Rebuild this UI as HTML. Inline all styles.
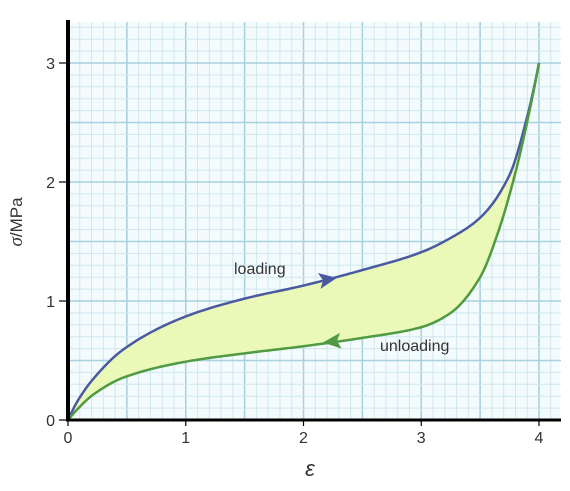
<!DOCTYPE html>
<html><head><meta charset="utf-8"><style>
body{margin:0;background:#fff}
svg text{font-family:"Liberation Sans",sans-serif}
</style></head><body>
<svg width="570" height="486" viewBox="0 0 570 486">
<g id="grid"></g>
<path id="fillArea" fill="#eaf8b8" stroke="none"/>
<path id="loadLine" fill="none" stroke="#4b5aa0" stroke-width="2.5"/>
<path id="unloadLine" fill="none" stroke="#4f9a42" stroke-width="2.5"/>
<polygon id="loadArrow" fill="#4b5aa0"/>
<polygon id="unloadArrow" fill="#4f9a42"/>
<text x="234" y="274" font-size="16" fill="#333">loading</text>
<text x="380" y="351" font-size="16" fill="#333">unloading</text>
<g id="axes"></g>
<text x="310" y="476" font-size="22" font-style="italic" font-family="Liberation Serif" text-anchor="middle" fill="#333">ε</text>
<text transform="translate(22,222) rotate(-90)" font-size="17" text-anchor="middle" fill="#333"><tspan font-style="italic" font-family="Liberation Serif" font-size="19">σ</tspan>/MPa</text>
</svg>
<script>
const xTicks=[0,1,2,3,4];
const yTicks=[0,1,2,3];
const loadX=[0,0.07,0.21,0.48,1,1.5,2,2.5,3,3.25,3.5,3.75,3.9,4];
const loadY=[0,0.14,0.34,0.6,0.87,1.02,1.13,1.26,1.41,1.53,1.7,2.06,2.55,3];
const unloadX=[0,0.07,0.21,0.48,1,1.5,2,2.5,3,3.25,3.5,3.65,3.8,3.92,4];
const unloadY=[0,0.08,0.21,0.36,0.49,0.56,0.62,0.69,0.78,0.9,1.2,1.57,2.08,2.6,3];
const X=v=>68+v*117.75, Y=v=>420-v*119;
const ns="http://www.w3.org/2000/svg";
const grid=document.getElementById('grid');
const bg=document.createElementNS(ns,'rect');


bg.setAttribute('x',68);bg.setAttribute('y',22);bg.setAttribute('width',492);bg.setAttribute('height',398);bg.setAttribute('fill','#f4fbfd');
grid.appendChild(bg);
for(let i=1;X(i/10)<=561;i++){const l=document.createElementNS(ns,'line');


const x=X(i/10);l.setAttribute('x1',x);l.setAttribute('x2',x);l.setAttribute('y1',22);l.setAttribute('y2',420);
l.setAttribute('stroke',i%5==0?'#a8d2df':'#cfe7ef');l.setAttribute('stroke-width',i%5==0?1.6:1);grid.appendChild(l);}
for(let i=1;Y(i/10)>=21;i++){const l=document.createElementNS(ns,'line');


const y=Y(i/10);l.setAttribute('y1',y);l.setAttribute('y2',y);l.setAttribute('x1',68);l.setAttribute('x2',561);
l.setAttribute('stroke',i%5==0?'#a8d2df':'#cfe7ef');l.setAttribute('stroke-width',i%5==0?1.6:1);grid.appendChild(l);}
// monotone cubic (Fritsch-Carlson) sampled densely
function samples(xs,ys){const n=xs.length,dx=[],m=[],t=[];
for(let i=0;i<n-1;i++){dx[i]=xs[i+1]-xs[i];m[i]=(ys[i+1]-ys[i])/dx[i];}
t[0]=m[0];t[n-1]=m[n-2]+(m[n-2]-m[n-3])*0.5;
for(let i=1;i<n-1;i++){t[i]=(m[i-1]*m[i]<=0)?0:(3*(dx[i-1]+dx[i]))/((2*dx[i]+dx[i-1])/m[i-1]+(dx[i]+2*dx[i-1])/m[i]);}
const pts=[];
for(let i=0;i<n-1;i++){const h=dx[i];for(let k=0;k<20;k++){const s=k/20;
const h00=2*s*s*s-3*s*s+1,h10=s*s*s-2*s*s+s,h01=-2*s*s*s+3*s*s,h11=s*s*s-s*s;
const y=h00*ys[i]+h10*h*t[i]+h01*ys[i+1]+h11*h*t[i+1];pts.push([X(xs[i]+s*h),Y(y)]);}}
pts.push([X(xs[n-1]),Y(ys[n-1])]);return pts;}
const lpts=samples(loadX,loadY),upts=samples(unloadX,unloadY);
const toD=p=>'M'+p.map(q=>q[0].toFixed(2)+','+q[1].toFixed(2)).join(' L');
document.getElementById('loadLine').setAttribute('d',toD(lpts));
document.getElementById('unloadLine').setAttribute('d',toD(upts));
document.getElementById('fillArea').setAttribute('d',toD(lpts.concat([...upts].reverse()))+'Z');
function arrow(id,x,y,dir,ang){const cx=X(x),cy=Y(y);const a=ang,c=Math.cos(a),s=Math.sin(a);
const pts=[[10*dir,0],[-8*dir,-8],[-4*dir,0],[-8*dir,8]].map(([u,v])=>[cx+u*c-v*s,cy+u*s+v*c].join(','));
document.getElementById(id).setAttribute('points',pts.join(' '));}
arrow('loadArrow',2.2,1.18,1,-0.17);
arrow('unloadArrow',2.25,0.66,-1,-0.1);
const ax=document.getElementById('axes');
function ln(n,x1,y1,x2,y2,w){const l=document.createElementNS(ns,'line');


l.setAttribute('x1',x1);l.setAttribute('y1',y1);l.setAttribute('x2',x2);l.setAttribute('y2',y2);l.setAttribute('stroke','#000');l.setAttribute('stroke-width',w);ax.appendChild(l);}
ln('y-axis',68,20,68,421.5,4);ln('x-axis',66,420,561,420,3);
xTicks.forEach(v=>{ln('x-tick',X(v),420,X(v),426,1.2);const t=document.createElementNS(ns,'text');


t.setAttribute('x',X(v));t.setAttribute('y',443);t.setAttribute('text-anchor','middle');t.setAttribute('font-size','16');t.setAttribute('fill','#333');t.textContent=v;ax.appendChild(t);});
yTicks.forEach(v=>{ln('y-tick',59,Y(v),68,Y(v),1.2);const t=document.createElementNS(ns,'text');


t.setAttribute('x',55);t.setAttribute('y',Y(v)+6);t.setAttribute('text-anchor','end');t.setAttribute('font-size','16');t.setAttribute('fill','#333');t.textContent=v;ax.appendChild(t);});
</script>
</body></html>
